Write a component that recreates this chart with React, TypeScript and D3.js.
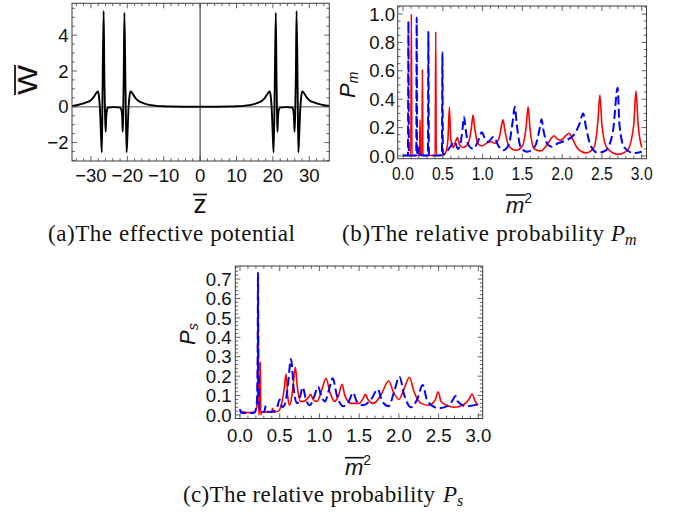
import React from 'react';
import * as d3 from 'd3';

type Pt = [number, number];

// ---------- Panel (a): effective potential ----------
const potZ = [
  -35.2, -33.7, -32.2, -31.2, -30.2, -29.4, -28.8, -28.4, -28.05, -27.8, -27.5, -27.25, -27.0, -26.8, -26.5, -26.3, -26.1, -25.95, -25.8, -25.6, -25.4, -23.7, -22.0, -21.6, -21.4, -21.25, -21.15, -21.0, -20.8, -20.5, -20.2, -19.95, -19.7, -19.4, -19.1, -18.8, -18.4, -17.8, -17.0, -16.0, -15.0, -13.5, -12.0, -10.0, -8.0, -4.0, 0,
  4.0, 8.0, 10.0, 12.0, 13.5, 15.0, 16.0, 17.0, 17.8, 18.4, 18.8, 19.1, 19.4, 19.7, 19.95, 20.2, 20.5, 20.8, 21.0, 21.15, 21.25, 21.4, 21.6, 22.0, 23.7, 25.4, 25.6, 25.8, 25.95, 26.1, 26.3, 26.5, 26.8, 27.0, 27.25, 27.5, 27.8, 28.05, 28.4, 28.8, 29.4, 30.2, 31.2, 32.2, 33.7, 35.5,
];
const potW = [
  0.05, 0.1, 0.17, 0.25, 0.34, 0.5, 0.68, 0.8, 0.86, 0.6, -0.2, -1.5, -2.55, 1.0, 5.35, 1.5, -0.6, -1.4, -0.6, -0.2, -0.05, -0.02, -0.05, -0.2, -0.6, -1.4, -0.6, 1.5, 5.25, 1.0, -2.55, -1.5, -0.2, 0.6, 0.86, 0.82, 0.68, 0.5, 0.34, 0.23, 0.16, 0.09, 0.05, 0.025, 0.012, 0.003, 0,
  0.003, 0.012, 0.025, 0.05, 0.09, 0.16, 0.23, 0.34, 0.5, 0.68, 0.82, 0.86, 0.6, -0.2, -1.5, -2.55, 1.0, 5.25, 1.5, -0.6, -1.4, -0.6, -0.2, -0.05, -0.02, -0.05, -0.2, -0.6, -1.4, -0.6, 1.5, 5.35, 1.0, -2.55, -1.5, -0.2, 0.6, 0.86, 0.8, 0.68, 0.5, 0.34, 0.25, 0.17, 0.1, 0.05,
];
const aXTicks = [-30, -20, -10, 0, 10, 20, 30];
const aXLabels = ['\u221230', '\u221220', '\u221210', '0', '10', '20', '30'];
const aYTicks = [-2, 0, 2, 4];
const aYLabels = ['\u22122', '0', '2', '4'];

// ---------- Panel (b): P_m ----------
const pmRed: Pt[] = [
  [0, 0.003], [0.098, 0.003], [0.105, 1.0], [0.112, 0.003], [0.208, 0.003], [0.214, 0.254], [0.22, 0.003],
  [0.238, 0.003], [0.244, 0.61], [0.25, 0.003], [0.404, 0.003], [0.411, 0.875], [0.418, 0.003],
  [0.5, 0.005], [0.54, 0.03], [0.565, 0.12], [0.583, 0.343], [0.6, 0.12], [0.63, 0.06], [0.66, 0.1],
  [0.684, 0.13], [0.71, 0.08], [0.75, 0.06], [0.82, 0.09], [0.86, 0.2], [0.88, 0.289], [0.9, 0.2],
  [0.94, 0.09], [0.99, 0.07], [1.05, 0.09], [1.1, 0.1], [1.16, 0.09], [1.21, 0.13], [1.24, 0.22],
  [1.258, 0.254], [1.28, 0.18], [1.33, 0.07], [1.42, 0.04], [1.5, 0.07], [1.55, 0.22], [1.572, 0.347],
  [1.595, 0.2], [1.65, 0.05], [1.73, 0.035], [1.8, 0.07], [1.87, 0.13], [1.896, 0.143], [1.94, 0.12],
  [1.98, 0.11], [2.04, 0.14], [2.088, 0.16], [2.13, 0.12], [2.2, 0.05], [2.3, 0.022], [2.4, 0.06],
  [2.45, 0.25], [2.474, 0.43], [2.5, 0.22], [2.56, 0.06], [2.7, 0.012], [2.82, 0.04], [2.9, 0.22],
  [2.927, 0.458], [2.955, 0.22], [3.0, 0.06],
];
const pmBlue: Pt[] = [
  [0, 0.003], [0.062, 0.003], [0.068, 0.95], [0.074, 0.003], [0.166, 0.003], [0.172, 0.975], [0.178, 0.003],
  [0.19, 0.02], [0.2, 0.06], [0.21, 0.02], [0.23, 0.005], [0.313, 0.003], [0.319, 0.875], [0.325, 0.003],
  [0.489, 0.005], [0.495, 0.73], [0.501, 0.01], [0.55, 0.03], [0.6, 0.07], [0.65, 0.1], [0.69, 0.05],
  [0.72, 0.08], [0.75, 0.2], [0.767, 0.277], [0.785, 0.2], [0.82, 0.08], [0.88, 0.05], [0.94, 0.1],
  [0.99, 0.167], [1.04, 0.11], [1.07, 0.1], [1.137, 0.136], [1.2, 0.07], [1.26, 0.04], [1.33, 0.08],
  [1.38, 0.25], [1.405, 0.347], [1.43, 0.22], [1.48, 0.06], [1.56, 0.03], [1.66, 0.07], [1.72, 0.2],
  [1.741, 0.258], [1.765, 0.18], [1.82, 0.08], [1.87, 0.065], [1.95, 0.09], [2.05, 0.11], [2.15, 0.15],
  [2.22, 0.23], [2.264, 0.3], [2.3, 0.2], [2.36, 0.07], [2.45, 0.022], [2.55, 0.04], [2.64, 0.18],
  [2.697, 0.48], [2.72, 0.22], [2.78, 0.06], [2.9, 0.02], [3.0, 0.03],
];
const bXTicks = [0, 0.5, 1, 1.5, 2, 2.5, 3];
const bXLabels = ['0.0', '0.5', '1.0', '1.5', '2.0', '2.5', '3.0'];
const bYTicks = [0, 0.2, 0.4, 0.6, 0.8, 1.0];
const bYLabels = ['0.0', '0.2', '0.4', '0.6', '0.8', '1.0'];

// ---------- Panel (c): P_s ----------
const psRed: Pt[] = [
  [0, 0.02], [0.1, 0.012], [0.18, 0.015], [0.21, 0.04], [0.222, 0.1], [0.227, 0.566], [0.235, 0.0],
  [0.25, 0.05], [0.256, 0.274], [0.262, 0.0], [0.27, 0.015], [0.35, 0.015], [0.4, 0.02], [0.41, 0.035],
  [0.42, 0.015], [0.48, 0.02], [0.52, 0.05], [0.555, 0.13], [0.58, 0.211], [0.6, 0.1], [0.625, 0.05],
  [0.66, 0.12], [0.697, 0.245], [0.72, 0.15], [0.76, 0.07], [0.8, 0.07], [0.86, 0.09], [0.89, 0.106],
  [0.92, 0.08], [0.97, 0.07], [1.03, 0.13], [1.083, 0.189], [1.13, 0.12], [1.19, 0.07], [1.24, 0.1],
  [1.285, 0.158], [1.32, 0.1], [1.4, 0.06], [1.5, 0.06], [1.55, 0.085], [1.578, 0.106], [1.61, 0.08],
  [1.68, 0.06], [1.77, 0.1], [1.872, 0.175], [1.93, 0.12], [2.0, 0.08], [2.07, 0.14], [2.133, 0.194],
  [2.19, 0.12], [2.28, 0.06], [2.38, 0.05], [2.46, 0.08], [2.494, 0.12], [2.53, 0.07], [2.6, 0.05],
  [2.7, 0.04], [2.8, 0.05], [2.88, 0.08], [2.922, 0.108], [2.96, 0.07], [3.0, 0.05],
];
const psBlue: Pt[] = [
  [0, 0.03], [0.01, 0.012], [0.1, 0.01], [0.18, 0.012], [0.21, 0.05], [0.222, 0.3], [0.227, 0.733],
  [0.232, 0.3], [0.245, 0.03], [0.27, 0.015], [0.31, 0.02], [0.32, 0.045], [0.33, 0.02], [0.4, 0.015],
  [0.46, 0.03], [0.5, 0.08], [0.53, 0.04], [0.56, 0.05], [0.6, 0.14], [0.642, 0.288], [0.68, 0.12],
  [0.72, 0.06], [0.76, 0.1], [0.79, 0.143], [0.83, 0.08], [0.88, 0.05], [0.93, 0.09], [0.982, 0.146],
  [1.03, 0.09], [1.07, 0.07], [1.12, 0.13], [1.167, 0.189], [1.22, 0.1], [1.3, 0.045], [1.37, 0.07],
  [1.423, 0.115], [1.47, 0.07], [1.55, 0.05], [1.65, 0.08], [1.734, 0.132], [1.79, 0.07], [1.87, 0.045],
  [1.94, 0.12], [2.006, 0.197], [2.07, 0.1], [2.15, 0.04], [2.23, 0.08], [2.3, 0.154], [2.36, 0.07],
  [2.5, 0.035], [2.63, 0.05], [2.69, 0.085], [2.712, 0.098], [2.74, 0.07], [2.85, 0.045], [3.0, 0.055],
];
const cXTicks = [0, 0.5, 1, 1.5, 2, 2.5, 3];
const cXLabels = ['0.0', '0.5', '1.0', '1.5', '2.0', '2.5', '3.0'];
const cYTicks = [0, 0.1, 0.2, 0.3, 0.4, 0.5, 0.6, 0.7];
const cYLabels = ['0.0', '0.1', '0.2', '0.3', '0.4', '0.5', '0.6', '0.7'];

const captionA = '(a)The effective potential';
const captionB = '(b)The relative probability';
const captionC = '(c)The relative probability';

const SANS = 'Liberation Sans, Arial, sans-serif';
const SERIF = 'Liberation Serif, Times New Roman, serif';
const FRAME = '#3c3c3c';
const TICK_FS = 18.6;
const CAP_FS = 23;

type Box = { l: number; r: number; t: number; b: number };
type Scale = d3.ScaleLinear<number, number>;

function minorRange(dom: [number, number], step: number): number[] {
  const a = Math.ceil(dom[0] / step - 1e-9);
  const b = Math.floor(dom[1] / step + 1e-9);
  return d3.range(a, b + 1).map((i) => +(i * step).toFixed(6));
}

function Panel(props: {
  id: string;
  box: Box;
  xDom: [number, number];
  yDom: [number, number];
  xTicks: number[];
  xLabels: string[];
  xMinor: number;
  yTicks: number[];
  yLabels: string[];
  yMinor: number;
  xLabelBase: number;
  yLabelRight: number;
  xLabelLen?: number;
  render: (x: Scale, y: Scale) => React.ReactNode;
}) {
  const { id, box, xDom, yDom } = props;
  const x = d3.scaleLinear().domain(xDom).range([box.l, box.r]);
  const y = d3.scaleLinear().domain(yDom).range([box.b, box.t]);
  const xm = minorRange(xDom, props.xMinor);
  const ym = minorRange(yDom, props.yMinor);
  const MAJ = 5;
  const MIN = 2.8;
  const isMajor = (v: number, arr: number[]) => arr.some((t) => Math.abs(t - v) < 1e-6);
  return (
    <g>
      <defs>
        <clipPath id={id}>
          <rect x={box.l} y={box.t} width={box.r - box.l} height={box.b - box.t} />
        </clipPath>
      </defs>
      <g clipPath={`url(#${id})`}>{props.render(x, y)}</g>
      <rect x={box.l} y={box.t} width={box.r - box.l} height={box.b - box.t} fill="none" stroke={FRAME} strokeWidth={1} />
      {xm.map((v, i) => {
        const L = isMajor(v, props.xTicks) ? MAJ : MIN;
        const px = x(v);
        return (
          <g key={'xm' + i} stroke={FRAME} strokeWidth={0.8}>
            <line x1={px} x2={px} y1={box.b} y2={box.b - L} />
            <line x1={px} x2={px} y1={box.t} y2={box.t + L} />
          </g>
        );
      })}
      {ym.map((v, i) => {
        const L = isMajor(v, props.yTicks) ? MAJ : MIN;
        const py = y(v);
        return (
          <g key={'ym' + i} stroke={FRAME} strokeWidth={0.8}>
            <line x1={box.l} x2={box.l + L} y1={py} y2={py} />
            <line x1={box.r} x2={box.r - L} y1={py} y2={py} />
          </g>
        );
      })}
      {props.xTicks.map((v, i) => (
        <text
          key={'xl' + i}
          x={x(v)}
          y={props.xLabelBase}
          textAnchor="middle"
          fontFamily={SANS}
          fontSize={TICK_FS}
          fill="#111"
          {...(props.xLabelLen ? { textLength: props.xLabelLen, lengthAdjust: 'spacingAndGlyphs' } : {})}
        >
          {props.xLabels[i]}
        </text>
      ))}
      {props.yTicks.map((v, i) => (
        <text
          key={'yl' + i}
          x={props.yLabelRight}
          y={y(v) + TICK_FS * 0.358}
          textAnchor="end"
          fontFamily={SANS}
          fontSize={TICK_FS}
          fill="#111"
        >
          {props.yLabels[i]}
        </text>
      ))}
    </g>
  );
}

function pathOf(data: Pt[], x: Scale, y: Scale): string {
  return (
    d3
      .line<Pt>()
      .x((d) => x(d[0]))
      .y((d) => y(d[1]))
      .curve(d3.curveMonotoneX)(data) || ''
  );
}

export default function App() {
  const potData: Pt[] = potZ.map((z, i) => [z, potW[i]]);
  return (
    <svg
      width={683}
      height={515}
      viewBox="0 0 683 515"
      style={{ position: 'absolute', left: 0, top: 0, background: '#ffffff' }}
    >
      <rect x={0} y={0} width={683} height={515} fill="#ffffff" />

      {/* Panel (a) */}
      <Panel
        id="clipA"
        box={{ l: 72, r: 329.3, t: 3.3, b: 161 }}
        xDom={[-35.2, 35.5]}
        yDom={[-3.03, 5.78]}
        xTicks={aXTicks}
        xLabels={aXLabels}
        xMinor={2}
        yTicks={aYTicks}
        yLabels={aYLabels}
        yMinor={0.5}
        xLabelBase={181.7}
        yLabelRight={68.5}
        render={(x, y) => (
          <g>
            <line x1={x(-40)} x2={x(40)} y1={y(0)} y2={y(0)} stroke="#8a8a8a" strokeWidth={1.6} />
            <line x1={x(0)} x2={x(0)} y1={y(-4)} y2={y(7)} stroke="#222" strokeWidth={1} />
            <path d={pathOf(potData, x, y)} fill="none" stroke="#000" strokeWidth={1.9} strokeLinejoin="round" />
          </g>
        )}
      />
      <text x={200} y={213} textAnchor="middle" fontFamily={SANS} fontSize={26} fill="#111">z</text>
      <line x1={193} x2={207} y1={194.5} y2={194.5} stroke="#111" strokeWidth={1.6} />
      <text
        transform="translate(36.7,80) rotate(-90)"
        x={0}
        y={0}
        textAnchor="middle"
        fontFamily={SANS}
        fontSize={28}
        fill="#111"
        textLength={30}
        lengthAdjust="spacingAndGlyphs"
      >
        W
      </text>
      <line x1={15} x2={15} y1={65} y2={95} stroke="#111" strokeWidth={1.8} />

      {/* Panel (b) */}
      <Panel
        id="clipB"
        box={{ l: 397.7, r: 646.5, t: 6, b: 158.7 }}
        xDom={[-0.0667, 3.06]}
        yDom={[-0.0191, 1.0563]}
        xTicks={bXTicks}
        xLabels={bXLabels}
        xMinor={0.1}
        yTicks={bYTicks}
        yLabels={bYLabels}
        yMinor={0.05}
        xLabelBase={180}
        yLabelRight={395}
        xLabelLen={21.8}
        render={(x, y) => (
          <g>
            <path d={pathOf(pmRed, x, y)} fill="none" stroke="#ff0000" strokeWidth={1.6} strokeLinejoin="round" />
            <path d={pathOf(pmBlue, x, y)} fill="none" stroke="#0000ff" strokeWidth={2} strokeDasharray="9,4" strokeLinejoin="round" />
          </g>
        )}
      />
      <text x={506} y={213} fontFamily={SANS} fontStyle="italic" fontSize={22} fill="#111">
        m<tspan fontStyle="normal" fontSize={14} dy={-10}>2</tspan>
      </text>
      <line x1={506} x2={525} y1={195} y2={195} stroke="#111" strokeWidth={1.6} />
      <text transform="translate(355,98) rotate(-90)" x={0} y={0} fontFamily={SANS} fontStyle="italic" fontSize={22} fill="#111">
        P<tspan fontSize={14} dy={3}>m</tspan>
      </text>

      {/* Panel (c) */}
      <Panel
        id="clipC"
        box={{ l: 235.3, r: 482.7, t: 266, b: 418.5 }}
        xDom={[-0.059, 3.055]}
        yDom={[-0.0180, 0.767]}
        xTicks={cXTicks}
        xLabels={cXLabels}
        xMinor={0.1}
        yTicks={cYTicks}
        yLabels={cYLabels}
        yMinor={0.02}
        xLabelBase={441.7}
        yLabelRight={231.7}
        render={(x, y) => (
          <g>
            <path d={pathOf(psRed, x, y)} fill="none" stroke="#ff0000" strokeWidth={1.6} strokeLinejoin="round" />
            <path d={pathOf(psBlue, x, y)} fill="none" stroke="#0000ff" strokeWidth={2} strokeDasharray="9,4" strokeLinejoin="round" />
          </g>
        )}
      />
      <text x={345} y={475} fontFamily={SANS} fontStyle="italic" fontSize={22} fill="#111">
        m<tspan fontStyle="normal" fontSize={14} dy={-10}>2</tspan>
      </text>
      <line x1={345} x2={364} y1={457.7} y2={457.7} stroke="#111" strokeWidth={1.6} />
      <text transform="translate(195,345) rotate(-90)" x={0} y={0} fontFamily={SANS} fontStyle="italic" fontSize={22} fill="#111">
        P<tspan fontSize={14} dy={3}>s</tspan>
      </text>

      {/* Captions */}
      <text x={48} y={241} fontFamily={SERIF} fontSize={CAP_FS} fill="#111" textLength={247} lengthAdjust="spacing">
        {captionA}
      </text>
      <text x={342} y={241} fontFamily={SERIF} fontSize={CAP_FS} fill="#111" textLength={262} lengthAdjust="spacing">
        {captionB}
      </text>
      <text x={611} y={241} fontFamily={SERIF} fontStyle="italic" fontSize={CAP_FS} fill="#111">
        P<tspan fontSize={16} dy={4}>m</tspan>
      </text>
      <text x={183} y={502} fontFamily={SERIF} fontSize={CAP_FS} fill="#111" textLength={252} lengthAdjust="spacing">
        {captionC}
      </text>
      <text x={443} y={502} fontFamily={SERIF} fontStyle="italic" fontSize={CAP_FS} fill="#111">
        P<tspan fontSize={16} dy={4}>s</tspan>
      </text>
    </svg>
  );
}
